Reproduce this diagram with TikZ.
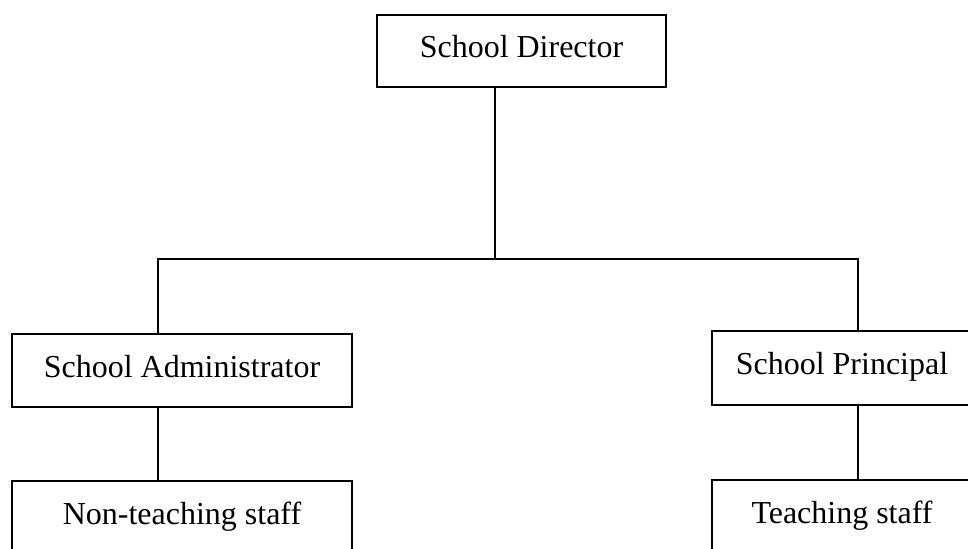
\documentclass[tikz,border=0pt]{standalone}
\usepackage{fontspec}
\setmainfont{Liberation Serif}
\begin{document}
\begin{tikzpicture}[unit/.style={draw,line width=0.9pt,inner sep=0pt,text height=12.5pt,text depth=5pt,font=\fontsize{18.2}{22}\selectfont}]
\clip(0,0)rectangle(19.36,10.96);
\node[unit,minimum width=5.78cm,minimum height=1.44cm](dir)at(10.43,9.94){School Director};
\node[unit,minimum width=6.8cm,minimum height=1.46cm](adm)at(3.64,3.55){School Administrator};
\node[unit,minimum width=5.2cm,minimum height=1.48cm](prin)at(16.84,3.6){School Principal};
\node[unit,minimum width=6.8cm,minimum height=1.46cm](non)at(3.64,0.61){Non-teaching staff};
\node[unit,minimum width=5.2cm,minimum height=1.46cm](teach)at(16.84,0.63){Teaching staff};
\coordinate(jn)at(9.9,5.78);
\coordinate(lt)at(3.16,5.78);
\coordinate(rt)at(17.16,5.78);
\draw[line width=0.9pt](dir.south-|jn)--(jn);
\draw[line width=0.9pt](adm.north-|lt)--(lt)--(rt)--(prin.north-|rt);
\draw[line width=0.9pt](adm.south-|lt)--(non.north-|lt);
\draw[line width=0.9pt](prin.south-|rt)--(teach.north-|rt);
\end{tikzpicture}
\end{document}
